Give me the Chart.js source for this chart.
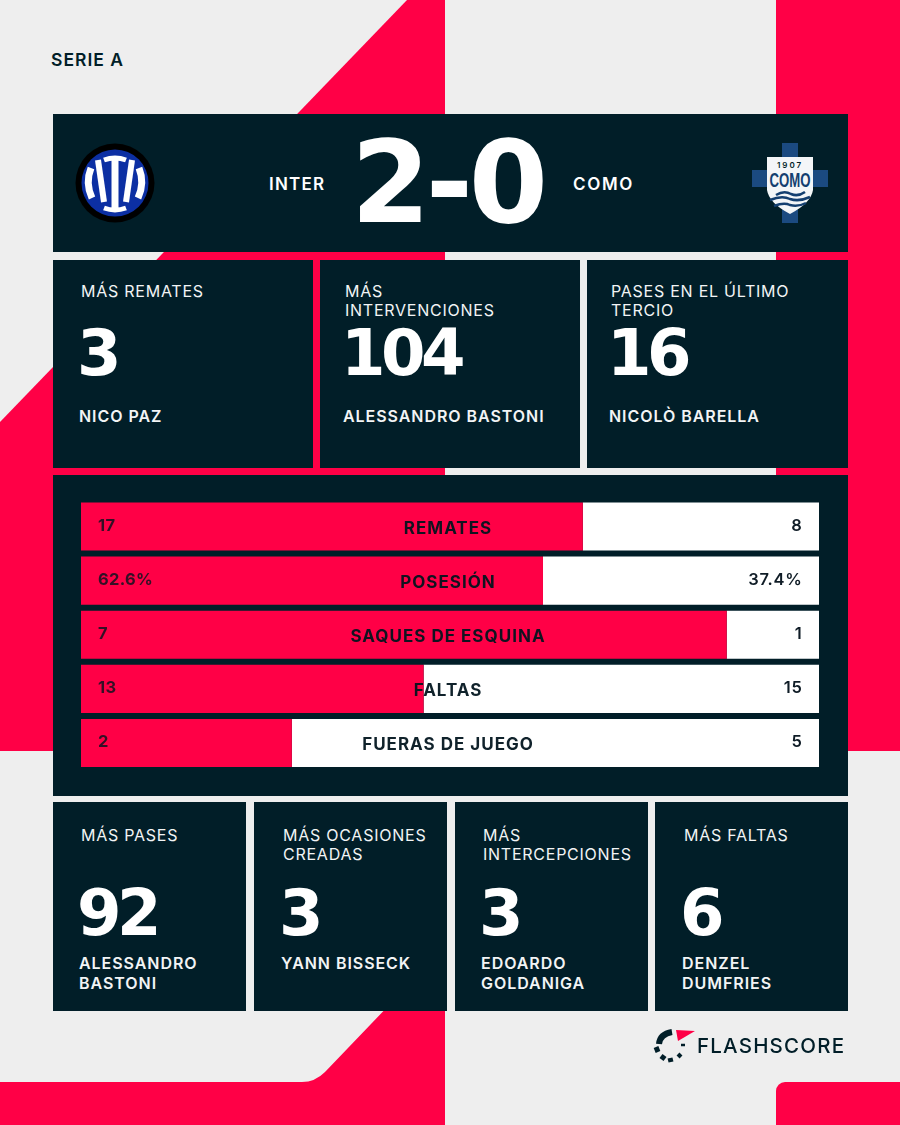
<!DOCTYPE html>
<html lang="es">
<head>
<meta charset="utf-8">
<title>Inter 2-0 Como</title>
<script src="https://cdn.jsdelivr.net/npm/chart.js@4"></script>
<style>
  html, body { margin: 0; padding: 0; background: #eeeeee; }
  #page { position: relative; width: 900px; height: 1125px; overflow: hidden; font-family: Inter, sans-serif; }
  #page svg { position: absolute; left: 0; top: 0; }
  .card { position: absolute; background: #011e28; }
  .txt { position: absolute; white-space: pre; }
  .title { color: #f2f4f5; font-size: 16px; font-weight: 400; letter-spacing: 0.75px; line-height: 18.7px; }
  .name { color: #f2f4f5; font-size: 16px; font-weight: 600; letter-spacing: 0.95px; line-height: 20px; }
  .big { color: #fff; font-family: "DejaVu Sans", sans-serif; font-weight: 700; font-size: 64px; line-height: 64px; letter-spacing: -4.5px; }
  .team { color: #fff; font-size: 17px; font-weight: 600; letter-spacing: 1.2px; line-height: 20px; }
  #chartWrap { position: absolute; left: 52px; top: 475px; width: 796px; height: 321px; }
</style>
</head>
<body>
<div id="page">
  <svg width="900" height="1125" viewBox="0 0 900 1125">
    <path fill="#ff0046" d="M407,0 L445,0 L445,751 L0,751 L0,422 Z"/>
    <rect fill="#ff0046" x="776" y="0" width="124" height="751"/>
    <path fill="#ff0046" d="M394,1000 L445,1000 L445,1125 L0,1125 L0,1082 L302,1082 Q315,1082 325,1072 Z"/>
    <rect fill="#ff0046" x="776" y="1082" width="140" height="60" rx="9"/>
  </svg>

  <div class="card" style="left:52.5px;top:114px;width:795px;height:138px"></div>
  <div class="card" style="left:52.5px;top:475px;width:795px;height:321px"></div>
  <div id="cards"></div>

  <div class="txt" style="left:51px;top:50px;color:#011e28;font-size:17.5px;font-weight:600;letter-spacing:1px;line-height:20px">SERIE A</div>
  <div class="txt team" style="left:269px;top:173.5px">INTER</div>
  <div class="txt team" style="left:573px;top:173.5px;letter-spacing:1.7px">COMO</div>
  <div class="txt big" style="left:351px;top:123px;font-size:114px;line-height:120px;letter-spacing:-4.5px">2-0</div>

  <!-- club crests -->
  <svg width="900" height="1125" viewBox="0 0 900 1125" style="pointer-events:none">
    <circle cx="115" cy="183" r="39.5" fill="#000"/>
    <circle cx="115" cy="183" r="33.5" fill="#0c2fa3"/>
    <g fill="none" stroke="#fff" stroke-width="7">
      <path d="M115,160 V208"/>
      <path d="M104,160 Q115,156 126,160" stroke-width="5"/>
      <path d="M104,208 Q115,212 126,208" stroke-width="5"/>
      <path d="M98,160 L104,202" stroke-width="6"/>
      <path d="M132,160 L126,202" stroke-width="6"/>
      <path d="M91,168 Q85,183 92,198" stroke-width="7"/>
      <path d="M139,168 Q145,183 138,198" stroke-width="7"/>
    </g>
    <rect x="782" y="143" width="16" height="80" fill="#1b4a80"/>
    <rect x="752" y="170" width="76" height="17" fill="#1b4a80"/>
    <path d="M767,157 H813 V190 Q811,203 790,214 Q769,203 767,190 Z" fill="#f4f6f8"/>
    <text x="790" y="168" text-anchor="middle" font-family="Inter" font-size="8" font-weight="600" letter-spacing="2" fill="#011e28">1907</text>
    <text x="790" y="187" text-anchor="middle" font-family="'Liberation Sans'" font-size="20" font-weight="700" textLength="41" lengthAdjust="spacingAndGlyphs" fill="#143f70">COMO</text>
    <g fill="none" stroke="#143f70" stroke-width="2.5">
      <path d="M776,195 Q784,190 791,194 Q798,197 805,192"/>
      <path d="M770,200 Q782,195 790,199 Q799,202 810,197"/>
      <path d="M774,206 Q784,202 790,205 Q798,207 806,203"/>
    </g>
  </svg>

  <div id="chartWrap"><canvas id="statsChart" width="796" height="321"></canvas></div>

  <!-- flashscore logo -->
  <svg width="900" height="1125" viewBox="0 0 900 1125" style="pointer-events:none">
    <path d="M676,1030 L695,1031 L678,1041 Z" fill="#ff0046"/>
    <g fill="none" stroke="#011e28">
      <path d="M659,1044 Q660,1034 672,1032" stroke-width="6"/>
      <path d="M656,1047 L658,1052" stroke-width="5"/>
      <path d="M661,1056 L665,1059" stroke-width="5"/>
      <path d="M670,1058 L671,1062" stroke-width="5"/>
      <path d="M678,1054 L681,1057" stroke-width="4"/>
      <path d="M681,1045 H685" stroke-width="2.5"/>
    </g>
  </svg>
  <div class="txt" style="left:697px;top:1034px;color:#011e28;font-size:20.5px;font-weight:500;letter-spacing:1.2px;line-height:24px">FLASHSCORE</div>
</div>

<script>
// bar stats, home then away
const categories = ['REMATES', 'POSESIÓN', 'SAQUES DE ESQUINA', 'FALTAS', 'FUERAS DE JUEGO'];
const homeValues = [17, 62.6, 7, 13, 2];
const awayValues = [8, 37.4, 1, 15, 5];
const homeLabels = ['17', '62.6%', '7', '13', '2'];
const awayLabels = ['8', '37.4%', '1', '15', '5'];

// player cards
const topTitles = ['MÁS REMATES', 'MÁS\nINTERVENCIONES', 'PASES EN EL ÚLTIMO\nTERCIO'];
const topValues = ['3', '104', '16'];
const topNames = ['NICO PAZ', 'ALESSANDRO BASTONI', 'NICOLÒ BARELLA'];
const bottomTitles = ['MÁS PASES', 'MÁS OCASIONES\nCREADAS', 'MÁS\nINTERCEPCIONES', 'MÁS FALTAS'];
const bottomValues = ['92', '3', '3', '6'];
const bottomNames = ['ALESSANDRO\nBASTONI', 'YANN BISSECK', 'EDOARDO\nGOLDANIGA', 'DENZEL\nDUMFRIES'];

function addText(parent, cls, text, x, y) {
    const el = document.createElement('div');
    el.className = 'txt ' + cls;
    el.textContent = text;
    el.style.left = x + 'px';
    el.style.top = y + 'px';
    parent.appendChild(el);
}

function buildCards(boxes, top, height, textX, titles, values, names, titleTop, valueTop, nameTop) {
    const holder = document.getElementById('cards');
    boxes.forEach((box, i) => {
        const card = document.createElement('div');
        card.className = 'card';
        card.style.cssText = `left:${box[0]}px;top:${top}px;width:${box[1] - box[0]}px;height:${height}px`;
        holder.appendChild(card);
        addText(holder, 'title', titles[i], textX[i] + 1, titleTop);
        addText(holder, 'big', values[i], textX[i] - 3, valueTop);
        addText(holder, 'name', names[i], textX[i] - 1, nameTop);
    });
}

buildCards([[52.5, 313], [320, 580], [587, 847.5]], 260, 208, [80, 344, 610],
    topTitles, topValues, topNames, 282, 321, 406);
buildCards([[52.5, 245.5], [253.5, 446.5], [454.5, 647.5], [655, 847.5]], 802, 209, [80, 282, 482, 683],
    bottomTitles, bottomValues, bottomNames, 826, 881, 953);

// numbers and names sit on top of the bars
const barText = {
    id: 'barText',
    afterDatasetsDraw(chart) {
        const ctx = chart.ctx;
        const yScale = chart.scales.y;
        const area = chart.chartArea;
        ctx.save();
        ctx.textBaseline = 'middle';
        categories.forEach((name, i) => {
            const y = yScale.getPixelForValue(i);
            ctx.fillStyle = 'rgba(1, 20, 30, 0.94)';
            ctx.font = '700 17px Inter';
            ctx.letterSpacing = '1px';
            ctx.textAlign = 'center';
            ctx.fillText(name, 396, y + 2);
            ctx.font = '700 16.5px Inter';
            ctx.letterSpacing = '0.3px';
            ctx.textAlign = 'left';
            ctx.fillStyle = 'rgba(1, 20, 30, 0.8)';
            ctx.fillText(homeLabels[i], area.left + 17, y - 1);
            ctx.font = '600 16.5px Inter';
            ctx.letterSpacing = '0.7px';
            ctx.textAlign = 'right';
            ctx.fillStyle = '#0f1c26';
            ctx.fillText(awayLabels[i], area.right - 16.5, y - 1);
        });
        ctx.restore();
    }
};

const totals = homeValues.map((v, i) => v + awayValues[i]);

new Chart(document.getElementById('statsChart').getContext('2d'), {
    type: 'bar',
    data: {
        labels: categories,
        datasets: [
            { label: 'Inter', data: homeValues.map((v, i) => v / totals[i] * 100), backgroundColor: '#ff0046' },
            { label: 'Como', data: awayValues.map((v, i) => v / totals[i] * 100), backgroundColor: '#ffffff' }
        ]
    },
    options: {
        indexAxis: 'y',
        responsive: false,
        animation: false,
        barPercentage: 0.89,
        categoryPercentage: 1,
        layout: { padding: { left: 29, right: 29, top: 24.5, bottom: 26 } },
        plugins: { legend: { display: false }, tooltip: { enabled: false } },
        scales: {
            x: { stacked: true, min: 0, max: 100, display: false },
            y: { stacked: true, display: false }
        }
    },
    plugins: [barText]
});
</script>
</body>
</html>
